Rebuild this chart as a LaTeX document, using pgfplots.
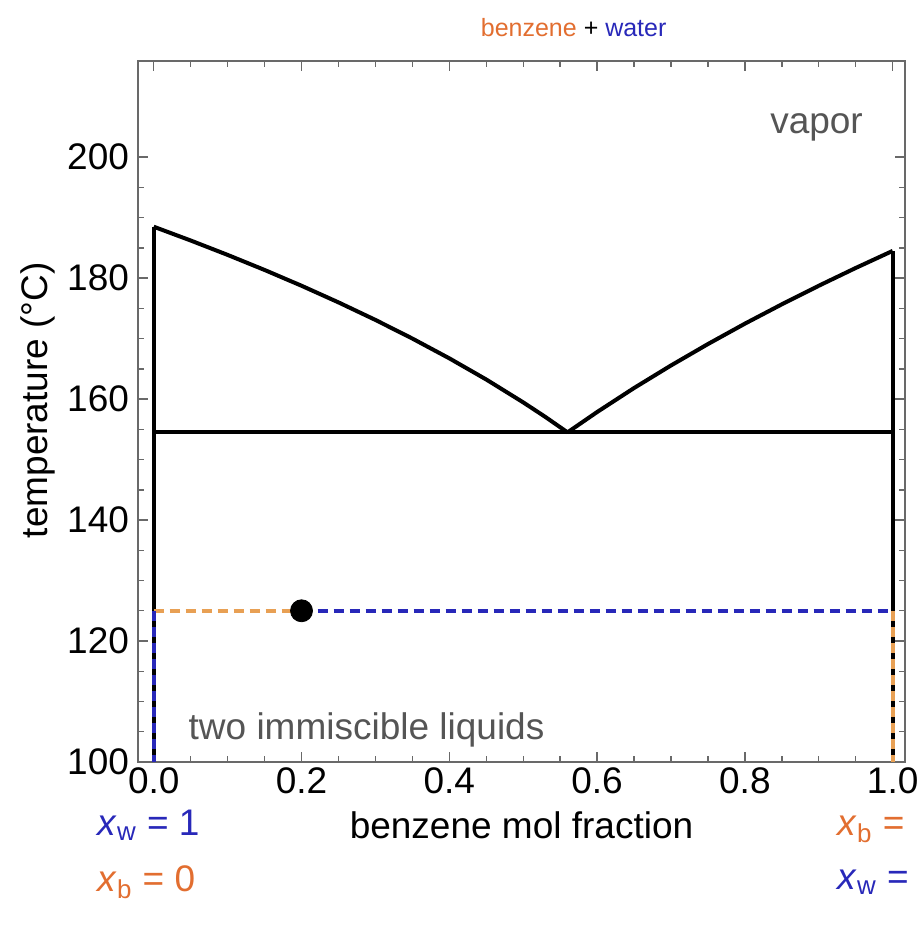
\documentclass[border=0pt]{standalone}
\usepackage{pgfplots}
\pgfplotsset{compat=1.18}
\usepackage{fontspec}
\setmainfont{Liberation Sans}
\definecolor{bzorange}{RGB}{226,110,48}
\definecolor{lnorange}{RGB}{232,160,84}
\definecolor{wblue}{RGB}{40,40,185}
\definecolor{framegray}{RGB}{105,105,105}
\definecolor{txtgray}{RGB}{85,85,85}
\newcommand{\bigf}{\fontsize{18.5}{21}\selectfont}
\begin{document}
\begin{tikzpicture}
\useasboundingbox (-69pt,-84pt) rectangle (389pt,381pt);
\begin{axis}[
  at={(0,0)}, anchor=south west,
  scale only axis, width=383.5pt, height=350.5pt,
  xmin=-0.0213, xmax=1.0167, ymin=100, ymax=215.9,
  xtick={0,0.2,0.4,0.6,0.8,1.0},
  ytick={100,120,140,160,180,200},
  minor x tick num=3, minor y tick num=3,
  major tick length=5pt, minor tick length=3pt,
  tick align=inside,
  axis line style={framegray, line width=0.8pt},
  every tick/.style={framegray, line width=0.7pt},
  /pgf/number format/assume math mode=true,
  tick label style={font=\bigf},
  xticklabel style={yshift=-1.5pt, inner sep=1pt, /pgf/number format/.cd, fixed, fixed zerofill, precision=1},
  yticklabel style={xshift=-1pt},
  xlabel={benzene mol fraction},
  ylabel={temperature (°C)},
  xlabel style={font=\bigf, inner sep=1pt, at={(axis description cs:0.5,-0.09)}, anchor=center},
  ylabel style={font=\bigf, at={(axis description cs:-0.130,0.516)}, anchor=center, rotate=0},
  clip=false,
]
% boundary lines
\addplot[black, line width=2pt] coordinates {(0,100) (0,188.5)};
\addplot[black, line width=2pt] coordinates {(1,100) (1,184.5)};
\addplot[black, line width=2pt] coordinates {(0,154.5) (1,154.5)};
% water-rich liquidus
\addplot[black, line width=2pt, line join=round] coordinates {
 (0,188.50) (0.05,186.22) (0.10,183.84) (0.15,181.35) (0.20,178.74)
 (0.25,175.99) (0.30,173.09) (0.35,170.01) (0.40,166.74) (0.45,163.24)
 (0.50,159.46) (0.53,157.05) (0.56,154.50)};
% benzene-rich liquidus
\addplot[black, line width=2pt, line join=round] coordinates {
 (0.56,154.50) (0.60,157.86) (0.65,161.83) (0.70,165.56) (0.75,169.10)
 (0.80,172.47) (0.85,175.67) (0.90,178.74) (0.95,181.68) (1.0,184.50)};
% tie line at 125
\addplot[lnorange, line width=2pt, dash pattern=on 5pt off 3pt] coordinates {(0,125) (0.2,125)};
\addplot[wblue, line width=2pt, dash pattern=on 5pt off 3pt] coordinates {(0.2,125) (1,125)};
\addplot[wblue, line width=2pt, dash pattern=on 5pt off 3pt] coordinates {(0,125) (0,100)};
\addplot[lnorange, line width=2pt, dash pattern=on 5pt off 3pt] coordinates {(1,125) (1,100)};
% state point
\addplot[only marks, mark=*, mark size=5.5pt, black] coordinates {(0.2,125)};
% annotations
\node[font=\bigf, text=txtgray, anchor=center] at (axis cs:0.897,205) {vapor};
\node[font=\bigf, text=txtgray, anchor=center] at (axis cs:0.288,105.3) {two immiscible liquids};
\node[font=\fontsize{12.5}{15}\selectfont, anchor=center] at (axis description cs:0.568,1.047)
  {\textcolor{bzorange}{benzene} + \textcolor{wblue}{water}};
\node[font=\bigf, anchor=west, inner sep=1pt, text=wblue] at (axis description cs:-0.056,-0.09) {\textit{x}\textsubscript{w} = 1};
\node[font=\bigf, anchor=west, inner sep=1pt, text=bzorange] at (axis description cs:-0.056,-0.172) {\textit{x}\textsubscript{b} = 0};
\node[font=\bigf, anchor=west, inner sep=1pt, text=bzorange] at (axis description cs:0.909,-0.096) {\textit{x}\textsubscript{b} =};
\node[font=\bigf, anchor=west, inner sep=1pt, text=wblue] at (axis description cs:0.909,-0.172) {\textit{x}\textsubscript{w} =};
\end{axis}
\end{tikzpicture}
\end{document}
